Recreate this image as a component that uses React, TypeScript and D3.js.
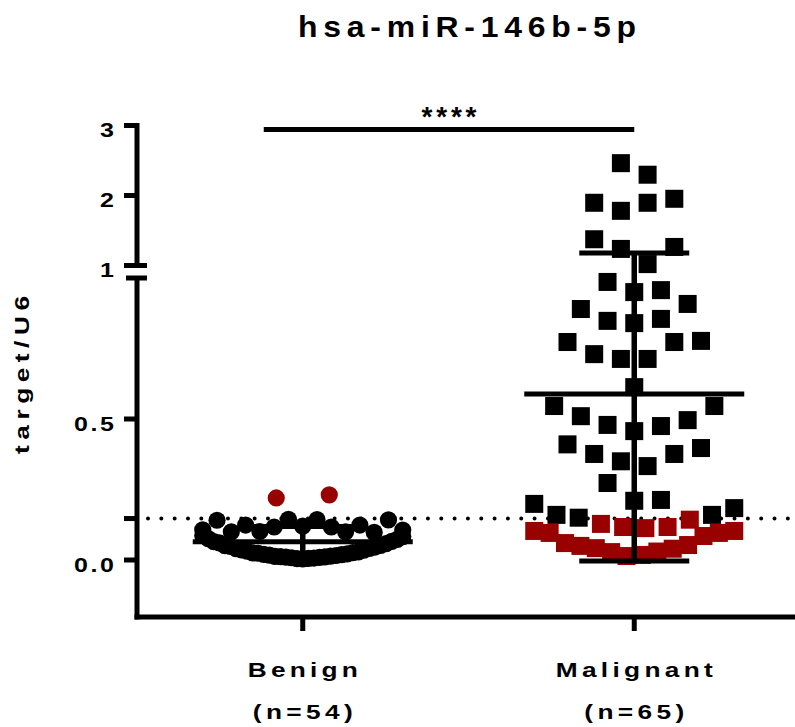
import React from 'react';
import * as d3 from 'd3';

// ---------------- data ----------------
const groups = ['Benign', 'Malignant'];
const groupCounts = ['(n=54)', '(n=65)'];
const chartTitle = 'hsa-miR-146b-5p';
const yTitle = 'target/U6';
const sigLabel = '****';
const cutoff = 0.147;
const lowTicks = [0, 0.5];
const highTicks = [1, 2, 3];

const benign = [
  0.004, 0.006, 0.005, 0.007, 0.008, 0.009, 0.010, 0.011, 0.012, 0.014, 0.013, 0.016, 0.017,
  0.019, 0.020, 0.022, 0.024, 0.026, 0.025, 0.029, 0.031, 0.035, 0.036, 0.041, 0.040, 0.046,
  0.048, 0.052, 0.051, 0.058, 0.061, 0.066, 0.065, 0.073, 0.076, 0.083, 0.087,
  0.120, 0.143, 0.144, 0.117, 0.117, 0.100, 0.101, 0.124, 0.124, 0.098, 0.100, 0.142, 0.141,
  0.106, 0.107,
  0.231, 0.220,
];

const malignant = [
  0.018, 0.014, 0.030, 0.028, 0.040, 0.042, 0.053, 0.050, 0.085, 0.060, 0.096, 0.096, 0.103, 0.103,
  0.113, 0.117, 0.117, 0.128, 0.143, 0.150, 0.160, 0.160, 0.184, 0.199,
  0.210, 0.213, 0.273,
  0.333, 0.350, 0.376, 0.376, 0.397, 0.410,
  0.457, 0.475, 0.479, 0.496, 0.510, 0.546, 0.546,
  0.613,
  0.713, 0.713, 0.773, 0.730, 0.777, 0.773,
  0.840, 0.855, 0.848, 0.908, 0.890,
  0.950, 0.957, 0.986,
  1.02, 1.237, 1.265, 1.375,
  1.896, 1.781, 1.953, 1.896,
  2.297, 2.462,
];

// ---------------- layout ----------------
const W = 795;
const H = 727;
const FONT = '"Liberation Sans", Arial, Helvetica, sans-serif';
const SX = 1.25;
const RED = '#990000';
const AXIS_X = 137;
const AXIS_Y = 617;
const LW = 5;

const yLow = d3.scaleLinear().domain([-0.2, 1.0]).range([616.4, 278]);
const yHigh = d3.scaleLinear().domain([1, 3]).range([265.5, 125.5]);
const yPos = (v: number) => (v <= 1 ? yLow(v) : yHigh(v));
const xScale = d3.scalePoint<string>().domain(groups).range([AXIS_X, 800]).padding(0.5);

function swarm(values: number[], cx: number, maxStep = 26.7, rowH = 26, width = 200) {
  const py = values.map(yPos);
  const order = d3.range(values.length).sort((a, b) => py[b] - py[a] || a - b);
  const xs: number[] = new Array(values.length);
  let i = 0;
  while (i < order.length) {
    const start = py[order[i]];
    const row: number[] = [];
    while (i < order.length && start - py[order[i]] < rowH) {
      row.push(order[i]);
      i++;
    }
    row.sort((a, b) => a - b);
    const n = row.length;
    const step = n > 1 ? Math.min(maxStep, width / (n - 1)) : 0;
    row.forEach((idx, j) => {
      let k: number, s: number;
      if (n % 2 === 1) {
        k = Math.ceil(j / 2);
        s = j % 2 === 1 ? 1 : -1;
      } else {
        k = Math.floor(j / 2) + 0.5;
        s = j % 2 === 0 ? 1 : -1;
      }
      xs[idx] = cx + s * k * step;
    });
  }
  return values.map((v, idx) => ({ v, x: xs[idx], y: py[idx] }));
}

function Label(props: {
  x: number; y: number; text: string; size: number; width?: number;
  anchor?: string; rotate?: number; sx?: number;
}) {
  const { x, y, text, size, width, anchor = 'middle', rotate = 0, sx = SX } = props;
  const extra: any = width ? { textLength: width / sx, lengthAdjust: 'spacing' } : {};
  return (
    <text
      transform={`translate(${x},${y}) rotate(${rotate}) scale(${sx},1)`}
      fontFamily={FONT}
      fontWeight="bold"
      fontSize={size}
      textAnchor={anchor}
      fill="#000"
      {...extra}
    >
      {text}
    </text>
  );
}

export default function App() {
  const data = [benign, malignant];
  const steps = [53, 26.7];
  const pts = data.map((arr, gi) => swarm(arr, xScale(groups[gi])!, steps[gi]));
  const stats = data.map((arr) => ({ mean: d3.mean(arr)!, sd: d3.deviation(arr)! }));
  const fLow = d3.format('.1f');
  const fHigh = d3.format('d');
  const cx0 = xScale(groups[0])!;
  const cx1 = xScale(groups[1])!;

  return (
    <svg width={W} height={H} style={{ position: 'absolute', left: 0, top: 0, background: '#fff' }}>
      <rect x={0} y={0} width={W} height={H} fill="#fff" />

      {/* title */}
      <Label x={467} y={37} text={chartTitle} size={29} width={338} sx={1.1} />

      {/* y axis title */}
      <Label x={28.5} y={375} text={yTitle} size={21} width={158} rotate={-90} />

      {/* cutoff dotted line */}
      <line x1={148} x2={W} y1={yLow(cutoff)} y2={yLow(cutoff)} stroke="#000" strokeWidth={4}
        strokeLinecap="round" strokeDasharray="0 13.33" />

      {/* points */}
      {pts[0].map((p, i) => (
        <circle key={'b' + i} cx={p.x} cy={p.y} r={8.6} fill={p.v > cutoff ? RED : '#000'} />
      ))}
      {pts[1].map((p, i) => (
        <rect key={'m' + i} x={p.x - 9} y={p.y - 9} width={18} height={18}
          fill={p.v < cutoff ? RED : '#000'} />
      ))}

      {/* mean & SD */}
      {stats.map((s, gi) => {
        const cx = xScale(groups[gi])!;
        const yt = yPos(s.mean + s.sd);
        const yb = yPos(Math.max(s.mean - s.sd, -0.2));
        const ym = yPos(s.mean);
        return (
          <g key={'e' + gi} stroke="#000" strokeWidth={LW}>
            <line x1={cx - 110} x2={cx + 110} y1={ym} y2={ym} />
            <line x1={cx} x2={cx} y1={yt} y2={yb} strokeWidth={5.5} />
            <line x1={cx - 55} x2={cx + 55} y1={yt} y2={yt} />
            <line x1={cx - 55} x2={cx + 55} y1={yb} y2={yb} />
          </g>
        );
      })}

      {/* axes */}
      <g stroke="#000" strokeWidth={LW}>
        <line x1={AXIS_X} x2={AXIS_X} y1={yHigh(3) - 2.5} y2={yHigh(1)} />
        <line x1={AXIS_X} x2={AXIS_X} y1={yLow(1)} y2={AXIS_Y + 2.5} />
        {highTicks.map((t) => (
          <line key={'ht' + t} x1={124} x2={t === 1 ? 147 : AXIS_X} y1={yHigh(t)} y2={yHigh(t)} />
        ))}
        <line x1={126} x2={147} y1={yLow(1)} y2={yLow(1)} />
        {[...lowTicks, cutoff].map((t) => (
          <line key={'lt' + t} x1={124} x2={AXIS_X} y1={yLow(t)} y2={yLow(t)} />
        ))}
        <line x1={AXIS_X - 2.5} x2={W} y1={AXIS_Y} y2={AXIS_Y} />
        {groups.map((g) => (
          <line key={'xt' + g} x1={xScale(g)!} x2={xScale(g)!} y1={AXIS_Y} y2={631} />
        ))}
        <line x1={cx0 - 39} x2={cx1} y1={129.5} y2={129.5} />
      </g>

      {/* tick labels */}
      {highTicks.map((t) => (
        <Label key={'hl' + t} x={114} y={yHigh(t) + 11} text={fHigh(t)} size={20} anchor="end" />
      ))}
      {lowTicks.map((t) => (
        <Label key={'ll' + t} x={114} y={yLow(t) + 11.5} text={fLow(t)} size={20} width={40} anchor="end" />
      ))}

      {/* significance */}
      <Label x={(cx0 - 39 + cx1) / 2} y={126} text={sigLabel} size={28} width={55} sx={1} />

      {/* x labels */}
      {groups.map((g, gi) => (
        <g key={'xl' + g}>
          <Label x={xScale(g)!} y={677} text={g} size={21} width={gi === 0 ? 110 : 157} />
          <Label x={xScale(g)!} y={719} text={groupCounts[gi]} size={21} width={100} />
        </g>
      ))}
    </svg>
  );
}
